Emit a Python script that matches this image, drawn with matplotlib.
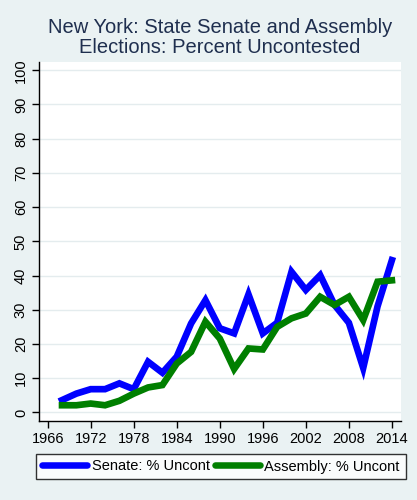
import matplotlib
matplotlib.use('Agg')
import matplotlib.pyplot as plt

# --- Data ---
years = list(range(1968, 2015, 2))
senate = [3.6, 5.5, 6.8, 6.8, 8.5, 6.8, 14.8, 11.6, 16.3, 26.0, 32.8, 24.6,
          23.1, 34.5, 23.1, 26.2, 41.1, 35.8, 40.1, 31.4, 26.2, 13.0, 31.0, 44.5]
assembly = [2.1, 2.1, 2.6, 2.1, 3.4, 5.5, 7.3, 8.0, 14.3, 17.7, 26.5, 21.6,
            12.7, 18.7, 18.4, 25.0, 27.5, 28.9, 33.8, 31.4, 33.8, 27.0, 38.2, 38.6]
x_ticks = [1966, 1972, 1978, 1984, 1990, 1996, 2002, 2008, 2014]
y_ticks = list(range(0, 101, 10))

title_lines = ['New York: State Senate and Assembly',
               'Elections: Percent Uncontested']
labels = ['Senate: % Uncont', 'Assembly: % Uncont']

# --- Style ---
bg = '#EAF2F3'
plt.rcParams['font.family'] = ['Liberation Sans', 'DejaVu Sans']

fig = plt.figure(figsize=(4.17, 5.0), dpi=100, facecolor=bg)
ax = fig.add_axes([39 / 417, 1 - 421 / 500, 362 / 417, 359 / 500])
ax.set_facecolor('white')

ax.plot(years, senate, color='#0000FF', lw=4.8, solid_joinstyle='miter',
        label=labels[0], zorder=3)
ax.plot(years, assembly, color='#007F00', lw=4.8, solid_joinstyle='miter',
        label=labels[1], zorder=3)

ax.set_xlim(1964.79, 2015.27)
ax.set_ylim(-2.5, 102.4)
ax.set_xticks(x_ticks)
ax.set_yticks(y_ticks)
ax.set_yticklabels([str(v) for v in y_ticks], rotation=90, va='center')
ax.grid(axis='y', color='#E4ECEE', lw=1.0, zorder=0)
ax.set_axisbelow(True)

for side in ['top', 'right']:
    ax.spines[side].set_visible(False)
for side in ['left', 'bottom']:
    ax.spines[side].set_color('black')
    ax.spines[side].set_linewidth(1.0)
ax.tick_params(axis='both', direction='out', length=5, width=1.0,
               labelsize=10.5, colors='black', pad=3)

# title, one text per line so the baselines sit where Stata put them
for i, line in enumerate(title_lines):
    fig.text(0.528, 1 - (33 + 20 * i) / 500, line, ha='center',
             va='baseline', fontsize=14.5, color='#1F2F4F')

leg = fig.legend(loc='center', bbox_to_anchor=(0.53, 1 - 466.5 / 500), ncol=2,
                 fontsize=10.5, frameon=True, fancybox=False, handlelength=3.1,
                 handletextpad=0.3, columnspacing=0.35, borderpad=0.4,
                 borderaxespad=0)
leg.get_frame().set_edgecolor('black')
leg.get_frame().set_linewidth(1.0)
leg.get_frame().set_facecolor('white')
for line in leg.get_lines():
    line.set_linewidth(4.7)
    line.set_solid_capstyle('round')

fig.savefig('out.png', dpi=100, facecolor=bg)
